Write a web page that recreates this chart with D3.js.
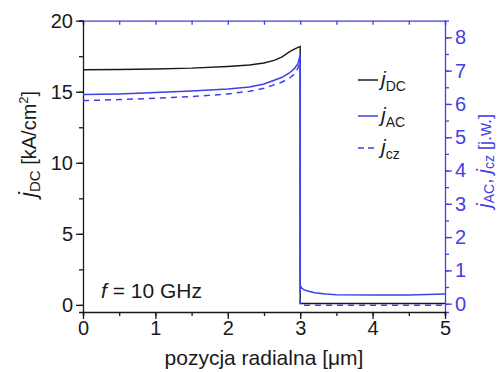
<!DOCTYPE html>
<html>
<head>
<meta charset="utf-8">
<script src="https://cdn.jsdelivr.net/npm/d3@7/dist/d3.min.js"></script>
<style>
  body { margin: 0; background: #fff; }
  text { font-family: "Liberation Sans", Arial, sans-serif; }
</style>
</head>
<body>
<script>
// radial position [um]
const xs = [0, 0.5, 1, 1.5, 2, 2.3, 2.5, 2.65, 2.75, 2.85, 2.92, 2.97, 3.0];
// before the edge (x <= 3)
const dcIn = [16.55, 16.57, 16.6, 16.66, 16.78, 16.88, 17.02, 17.22, 17.45, 17.8, 18.0, 18.12, 18.18];
const acIn = [6.28, 6.3, 6.34, 6.39, 6.45, 6.51, 6.6, 6.72, 6.8, 6.93, 7.06, 7.22, 7.48];
const czIn = [6.10, 6.13, 6.17, 6.22, 6.3, 6.38, 6.47, 6.58, 6.66, 6.77, 6.9, 7.08, 7.38];
// after the edge (x >= 3)
const xsOut = [3.0, 3.02, 3.05, 3.1, 3.2, 3.35, 3.5, 4, 4.5, 5];
const dcOut = [0.1, 0.1, 0.1, 0.1, 0.1, 0.1, 0.1, 0.1, 0.1, 0.1];
const acOut = [0.55, 0.47, 0.42, 0.38, 0.33, 0.29, 0.27, 0.26, 0.26, 0.29];
const czOut = [-0.05, -0.05, -0.05, -0.05, -0.05, -0.05, -0.05, -0.05, -0.05, -0.05];

const leftTicks = [0, 5, 10, 15, 20];
const rightTicks = [0, 1, 2, 3, 4, 5, 6, 7, 8];
const xTicks = [0, 1, 2, 3, 4, 5];

const blue = '#4040e6';
const black = '#1a1a1a';
const FS = 20;

const svg = d3.select('body').append('svg')
  .attr('width', 499)
  .attr('height', 372);

const x = d3.scaleLinear().domain([0, 5]).range([83, 445]);
const yL = d3.scaleLinear().domain([-0.5, 20]).range([312, 20.7]);
const yR = d3.scaleLinear().domain([-0.25, 8.5]).range([312, 20.7]);

const series = (xv, vals) => xv.map((v, i) => [v, vals[i]]);
const dc = series(xs, dcIn).concat(series(xsOut, dcOut));
const ac = series(xs, acIn).concat(series(xsOut, acOut));
const cz = series(xs, czIn).concat(series(xsOut, czOut));

const lineL = d3.line().x(d => x(d[0])).y(d => yL(d[1]));
const lineR = d3.line().x(d => x(d[0])).y(d => yR(d[1]));

const fmt = d3.format('d');

// top axis (blue, ticks inward)
svg.append('g')
  .attr('transform', `translate(0,${yL.range()[1]})`)
  .call(d3.axisBottom(x).tickValues(d3.range(0, 5.01, 0.5)).tickSize(4).tickFormat(''))
  .call(g => g.selectAll('line, path').attr('stroke', blue).attr('stroke-width', 1.3));

// right axis
const gR = svg.append('g').attr('transform', `translate(${x(5)},0)`);
gR.call(d3.axisRight(yR).tickValues(d3.range(0, 8.01, 0.5)).tickSize(4).tickFormat(''));
gR.append('g').call(d3.axisRight(yR).tickValues(rightTicks).tickSize(7).tickPadding(3).tickFormat(fmt))
  .call(g => g.select('.domain').remove());
gR.selectAll('line, path').attr('stroke', blue).attr('stroke-width', 1.3);
gR.selectAll('text').attr('fill', blue).attr('font-size', FS).attr('font-family', '"Liberation Sans", Arial, sans-serif');

// left axis
const gL = svg.append('g').attr('transform', `translate(${x(0)},0)`);
gL.call(d3.axisLeft(yL).tickValues(d3.range(0, 20.01, 2.5)).tickSize(4).tickFormat(''));
gL.append('g').call(d3.axisLeft(yL).tickValues(leftTicks).tickSize(7).tickPadding(3).tickFormat(fmt))
  .call(g => g.select('.domain').remove());
gL.selectAll('line, path').attr('stroke', black).attr('stroke-width', 1.3);
gL.selectAll('text').attr('fill', black).attr('font-size', FS).attr('font-family', '"Liberation Sans", Arial, sans-serif');

// bottom axis
const gB = svg.append('g').attr('transform', `translate(0,${yL(-0.5)})`);
gB.call(d3.axisBottom(x).tickValues(d3.range(0, 5.01, 0.5)).tickSize(4).tickFormat(''));
gB.append('g').call(d3.axisBottom(x).tickValues(xTicks).tickSize(7).tickPadding(2).tickFormat(fmt))
  .call(g => g.select('.domain').remove());
gB.selectAll('line, path').attr('stroke', black).attr('stroke-width', 1.3);
gB.selectAll('text').attr('fill', black).attr('font-size', FS).attr('font-family', '"Liberation Sans", Arial, sans-serif');

// data lines
svg.append('path').datum(dc).attr('d', lineL)
  .attr('fill', 'none').attr('stroke', black).attr('stroke-width', 1.4);
svg.append('path').datum(cz).attr('d', lineR)
  .attr('fill', 'none').attr('stroke', blue).attr('stroke-width', 1.5).attr('stroke-dasharray', '6,5');
svg.append('path').datum(ac).attr('d', lineR)
  .attr('fill', 'none').attr('stroke', blue).attr('stroke-width', 1.5);

// legend
const legend = [
  { sub: 'DC', color: black, dash: null, y: 80 },
  { sub: 'AC', color: blue, dash: null, y: 116 },
  { sub: 'cz', color: blue, dash: '6,4', y: 148 }
];
legend.forEach(d => {
  svg.append('line')
    .attr('x1', 358).attr('x2', 378).attr('y1', d.y).attr('y2', d.y)
    .attr('stroke', d.color).attr('stroke-width', 1.5)
    .attr('stroke-dasharray', d.dash);
  const t = svg.append('text').attr('x', 381).attr('y', d.y + 6)
    .attr('font-size', 21).attr('fill', black);
  t.append('tspan').attr('font-style', 'italic').text('j');
  t.append('tspan').attr('font-size', 14).attr('dy', 5).text(d.sub);
});

// frequency note
const f = svg.append('text').attr('x', 101).attr('y', 298)
  .attr('font-size', 21).attr('fill', black);
f.append('tspan').attr('font-style', 'italic').text('f');
f.append('tspan').text(' = 10 GHz');

// x label
svg.append('text').attr('x', 264).attr('y', 365)
  .attr('text-anchor', 'middle').attr('font-size', 21).attr('fill', black)
  .text('pozycja radialna [μm]');

// left y label
const lt = svg.append('text')
  .attr('transform', 'translate(36,144) rotate(-90)')
  .attr('text-anchor', 'middle').attr('font-size', 20).attr('fill', black);
lt.append('tspan').attr('font-style', 'italic').attr('font-size', 23).text('j');
lt.append('tspan').attr('font-size', 15).attr('dy', 4).text('DC');
lt.append('tspan').attr('dy', -4).text('  [kA/cm');
lt.append('tspan').attr('font-size', 13).attr('dy', -8).text('2');
lt.append('tspan').attr('dy', 8).text(']');

// right y label
const rt = svg.append('text')
  .attr('transform', 'translate(491,161) rotate(-90)')
  .attr('text-anchor', 'middle').attr('font-size', 18).attr('fill', blue);
rt.append('tspan').attr('font-style', 'italic').attr('font-size', 21).text('j');
rt.append('tspan').attr('font-size', 14).attr('dy', 3).text('AC');
rt.append('tspan').attr('dy', -3).text(', ');
rt.append('tspan').attr('font-style', 'italic').attr('font-size', 21).text('j');
rt.append('tspan').attr('font-size', 14).attr('dy', 3).text('cz');
rt.append('tspan').attr('dy', -3).text('  [j.w.]');
</script>
</body>
</html>
